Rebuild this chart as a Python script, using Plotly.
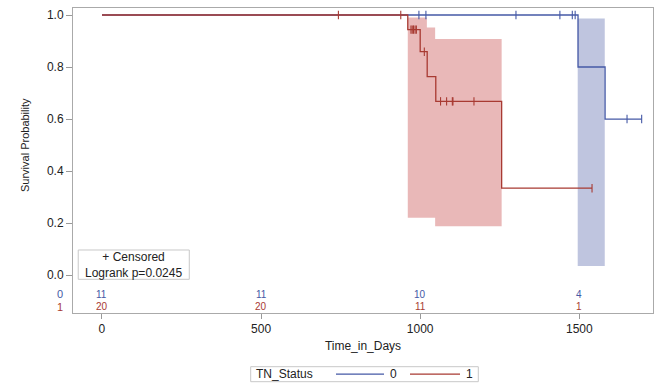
import plotly.graph_objects as go

# ---------------- data ----------------
groups = ["0", "1"]
legend_title = "TN_Status"
blue_times = [0, 1496, 1581, 1696]
blue_surv = [1.0, 0.8, 0.6, 0.6]
blue_censor = [996, 1018, 1301, 1439, 1478, 1487, 1650, 1696]

red_times = [0, 961, 1000, 1022, 1049, 1256, 1540]
red_surv = [1.0, 0.944, 0.859, 0.763, 0.668, 0.334, 0.334]
red_censor = [743, 939, 971, 975, 979, 984, 988, 1013, 1064, 1083, 1101, 1103, 1169, 1540]

blue_band_x = [1495, 1580]
blue_band_lo = [0.035, 0.035]
blue_band_hi = [0.987, 0.987]

red_band_x = [961, 1021, 1047, 1256]
red_band_lo = [0.22, 0.22, 0.188, 0.188]
red_band_hi = [0.99, 0.952, 0.908, 0.908]

risk_times = [0, 500, 1000, 1500]
risk_blue = [11, 11, 10, 4]
risk_red = [20, 20, 11, 1]

x_ticks = [0, 500, 1000, 1500]
y_ticks = [0.0, 0.2, 0.4, 0.6, 0.8, 1.0]

BLUE = "#4559a6"
RED = "#a83a32"
BLUE_FILL = "rgba(170,178,212,0.75)"
RED_FILL = "rgba(226,160,160,0.75)"


def step_value(times, surv, t):
    v = surv[0]
    for ti, si in zip(times, surv):
        if ti <= t:
            v = si
    return v


fig = go.Figure()

# confidence bands
fig.add_trace(go.Scatter(x=blue_band_x, y=blue_band_lo, mode="lines", line=dict(width=0, shape="hv"),
                         showlegend=False, hoverinfo="skip"))
fig.add_trace(go.Scatter(x=blue_band_x, y=blue_band_hi, mode="lines", line=dict(width=0, shape="hv"),
                         fill="tonexty", fillcolor=BLUE_FILL, showlegend=False, hoverinfo="skip"))
fig.add_trace(go.Scatter(x=red_band_x, y=red_band_lo, mode="lines", line=dict(width=0, shape="hv"),
                         showlegend=False, hoverinfo="skip"))
fig.add_trace(go.Scatter(x=red_band_x, y=red_band_hi, mode="lines", line=dict(width=0, shape="hv"),
                         fill="tonexty", fillcolor=RED_FILL, showlegend=False, hoverinfo="skip"))

# survival curves
fig.add_trace(go.Scatter(x=blue_times, y=blue_surv, mode="lines", name=groups[0], showlegend=False,
                         line=dict(color=BLUE, width=1.3, shape="hv")))
fig.add_trace(go.Scatter(x=red_times, y=red_surv, mode="lines", name=groups[1], showlegend=False,
                         line=dict(color=RED, width=1.3, shape="hv")))

# censor marks
fig.add_trace(go.Scatter(x=blue_censor, y=[step_value(blue_times, blue_surv, t) for t in blue_censor],
                         mode="markers", showlegend=False,
                         marker=dict(symbol="line-ns-open", size=6, color=BLUE,
                                     line=dict(color=BLUE, width=1.1))))
fig.add_trace(go.Scatter(x=red_censor, y=[step_value(red_times, red_surv, t) for t in red_censor],
                         mode="markers", showlegend=False,
                         marker=dict(symbol="line-ns-open", size=6, color=RED,
                                     line=dict(color=RED, width=1.1))))


def px_x(p):
    return (p - 73) / 580.0


def px_y(p):
    return (313 - p) / 305.0


annotations = []
# at-risk table
for t, b, r in zip(risk_times, risk_blue, risk_red):
    annotations.append(dict(x=t, y=-0.073, xref="x", yref="y", text=str(b), showarrow=False,
                            xanchor="center", yanchor="middle",
                            font=dict(size=10, color=BLUE, family="Arial")))
    annotations.append(dict(x=t, y=-0.121, xref="x", yref="y", text=str(r), showarrow=False,
                            xanchor="center", yanchor="middle",
                            font=dict(size=10, color=RED, family="Arial")))
annotations.append(dict(x=px_x(60), y=-0.073, xref="paper", yref="y", text=groups[0], showarrow=False,
                        xanchor="center", yanchor="middle",
                        font=dict(size=11, color=BLUE, family="Arial")))
annotations.append(dict(x=px_x(60), y=-0.121, xref="paper", yref="y", text=groups[1], showarrow=False,
                        xanchor="center", yanchor="middle",
                        font=dict(size=11, color=RED, family="Arial")))
# inset box text
annotations.append(dict(x=0.105, y=0.1585, xref="paper", yref="paper",
                        text="+ Censored<br>Logrank p=0.0245", showarrow=False, align="center",
                        xanchor="center", yanchor="middle",
                        font=dict(size=12, color="#222", family="Arial")))
# y-axis title
annotations.append(dict(x=px_x(25), y=0.5, xref="paper", yref="y", text="Survival Probability",
                        textangle=-90, showarrow=False, xanchor="center", yanchor="middle",
                        font=dict(size=11, color="#222", family="Arial")))

# legend (drawn as a boxed key below the axis)
leg_y = px_y(374.2)
annotations.append(dict(x=px_x(254), y=leg_y, xref="paper", yref="paper", text=legend_title,
                        showarrow=False, xanchor="left", yanchor="middle",
                        font=dict(size=12, color="#222", family="Arial")))
annotations.append(dict(x=px_x(393.3), y=leg_y, xref="paper", yref="paper", text=groups[0],
                        showarrow=False, xanchor="center", yanchor="middle",
                        font=dict(size=12, color="#222", family="Arial")))
annotations.append(dict(x=px_x(469.3), y=leg_y, xref="paper", yref="paper", text=groups[1],
                        showarrow=False, xanchor="center", yanchor="middle",
                        font=dict(size=12, color="#222", family="Arial")))

shapes = [
    dict(type="rect", xref="paper", yref="paper", x0=0.009, x1=0.2005, y0=0.1105, y1=0.2066,
         line=dict(color="#c8c8c8", width=1), fillcolor="white", layer="below"),
    dict(type="rect", xref="paper", yref="paper", x0=px_x(250.7), x1=px_x(478.3),
         y0=px_y(381.7), y1=px_y(366.7), line=dict(color="#c8c8c8", width=1), fillcolor="white"),
    dict(type="line", xref="paper", yref="paper", x0=px_x(336), x1=px_x(384), y0=leg_y, y1=leg_y,
         line=dict(color=BLUE, width=1.2)),
    dict(type="line", xref="paper", yref="paper", x0=px_x(410), x1=px_x(460), y0=leg_y, y1=leg_y,
         line=dict(color=RED, width=1.2)),
]

fig.update_layout(
    width=657, height=384,
    margin=dict(l=73, r=4, t=8, b=71, autoexpand=False),
    plot_bgcolor="white", paper_bgcolor="white",
    font=dict(family="Arial", size=12, color="#222"),
    annotations=annotations,
    shapes=shapes,
    showlegend=False,
    xaxis=dict(range=[-91, 1731.6], tickvals=x_ticks, ticks="outside", ticklen=5, automargin=False,
               tickcolor="#999", showline=True, linecolor="#aaa", mirror=True, showgrid=False,
               zeroline=False, title=dict(text="Time_in_Days", standoff=6, font=dict(size=12))),
    yaxis=dict(range=[-0.146, 1.027], tickvals=y_ticks, tickformat=".1f", ticks="outside", ticklen=6,
               automargin=False,
               tickcolor="#999", showline=True, linecolor="#aaa", mirror=True, showgrid=False,
               zeroline=False),
)

fig.write_html("out.html")
